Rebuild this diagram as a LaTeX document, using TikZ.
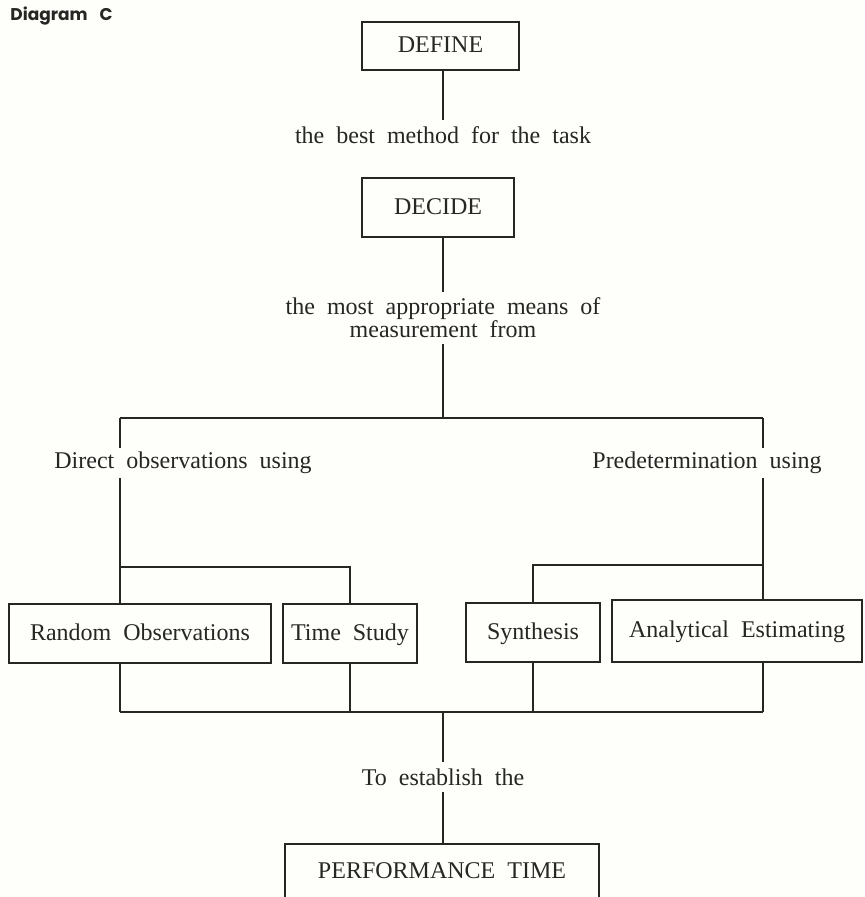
\documentclass[tikz,border=0pt]{standalone}
\usepackage{fontspec}
\setmainfont{Liberation Serif}[WordSpace=2]
\newfontfamily\headfont{Poppins}
\usetikzlibrary{positioning}
\definecolor{ink}{HTML}{262624}
\definecolor{paper}{HTML}{FEFEFB}
\tikzset{
  box/.style={rectangle, draw=ink, line width=0.7pt, fill=paper, text=ink, align=center, inner sep=0pt, text height=0.66em, text depth=0pt, font=\fontsize{12}{14}\selectfont},
  note/.style={align=center, text=ink, inner sep=3pt, font=\fontsize{12}{11.5}\selectfont},
  link/.style={draw=ink, line width=0.7pt},
}

\begin{document}
\begin{tikzpicture}[x=0.5pt, y=-0.5pt]
  \useasboundingbox[fill=paper] (0,0) rectangle (864,897);
  \node[anchor=west, text=ink, inner sep=0pt, font=\headfont\bfseries\fontsize{8.5}{10}\selectfont] (title) at (10,16) {Diagram\hspace{0.7em}C};
  \node[box, minimum width=78.5pt, minimum height=24pt] (define) at (440.5,46) {DEFINE};
  \node[note] (best) at (443,135) {the best method for the task};
  \node[box, minimum width=76pt, minimum height=29.5pt] (decide) at (438,207.5) {DECIDE};
  \node[note] (means) at (443,318) {the most appropriate means of\\measurement from};
  \coordinate (fork) at (443,418);
  \coordinate (lcorner) at (120,418);
  \coordinate (rcorner) at (763,418);
  \coordinate (lsplit) at (120,567);
  \coordinate (rsplit) at (763,565);
  \coordinate (join) at (443,712);
  \node[box, minimum width=131pt, minimum height=29.5pt] (random) at (140,633.5) {Random Observations};
  \node[box, minimum width=67pt, minimum height=29.5pt] (time) at (350,633.5) {Time Study};
  \node[box, minimum width=67pt, minimum height=29.5pt] (synth) at (533,632.5) {Synthesis};
  \node[box, minimum width=125pt, minimum height=31pt] (analyt) at (737,631) {Analytical Estimating};
  \node[note] (establish) at (443,777) {To establish the};
  \node[box, minimum width=157pt, minimum height=28pt] (perf) at (442,872) {PERFORMANCE TIME};
  % tree
  \draw[link] (define.south -| best) -- (best);
  \draw[link] (decide.south -| means) -- (means);
  \draw[link] (means) -- (fork);
  \draw[link] (lcorner) -- (rcorner);
  \draw[link] (lcorner) -- (lcorner |- random.north);
  \draw[link] (rcorner) -- (rcorner |- analyt.north);
  \draw[link] (lsplit) -| (time.north);
  \draw[link] (rsplit) -| (synth.north);
  \draw[link] (random.south -| lcorner) -- (lcorner |- join);
  \draw[link] (time.south) -- (time.south |- join);
  \draw[link] (synth.south) -- (synth.south |- join);
  \draw[link] (analyt.south -| rcorner) -- (rcorner |- join);
  \draw[link] (lcorner |- join) -- (rcorner |- join);
  \draw[link] (join) -- (establish);
  \draw[link] (establish) -- (perf.north -| establish);
  % labels sit over the branch lines
  \node[note, fill=paper, inner sep=2pt, anchor=west] (direct) at (50,463) {Direct observations using};
  \node[note, fill=paper, inner sep=2pt, anchor=west] (predet) at (588,463) {Predetermination using};
\end{tikzpicture}
\end{document}
